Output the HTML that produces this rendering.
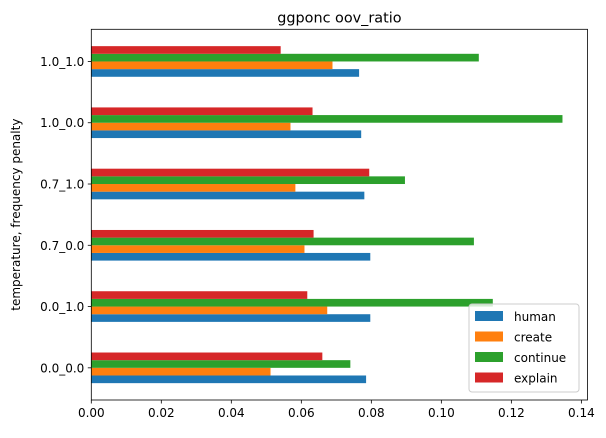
<!DOCTYPE html>
<html><head><meta charset="utf-8"><style>
body{margin:0;background:#fff;font-family:"Liberation Sans","DejaVu Sans",sans-serif}
svg text{font-family:"DejaVu Sans","Liberation Sans",sans-serif;font-size:12px;fill:#000}
</style></head><body>
<svg id="c" width="606" height="433"></svg>
<script>
const categories=["0.0_0.0","0.0_1.0","0.7_0.0","0.7_1.0","1.0_0.0","1.0_1.0"];
const seriesNames=["human","create","continue","explain"];
const human=[0.0785,0.0797,0.0797,0.078,0.0771,0.0765];
const create=[0.0512,0.0674,0.0609,0.0583,0.0569,0.0689];
const cont=[0.074,0.1147,0.1093,0.0896,0.1346,0.1107];
const explain=[0.066,0.0617,0.0635,0.0794,0.0632,0.0541];
const xTicks=[0,0.02,0.04,0.06,0.08,0.10,0.12,0.14];
const xTickLabels=["0.00","0.02","0.04","0.06","0.08","0.10","0.12","0.14"];
const colors=["#1f77b4","#ff7f0e","#2ca02c","#d62728"];
const series=[human,create,cont,explain];
const L=91.3,R=587.5,T=29.3,B=400;
const xmax=0.14175;
const X=v=>L+v/xmax*(R-L);
const ymin=-0.525,ymax=5.525;
const Y=v=>B-(v-ymin)/(ymax-ymin)*(B-T);
const svg=document.getElementById('c');const NS="http://www.w3.org/2000/svg";
function mk(t,a,txt){const e=document.createElementNS(NS,t);for(const k in a)e.setAttribute(k,a[k]);if(txt!=null)e.textContent=txt;svg.appendChild(e);return e;}
const bw=0.125;
categories.forEach((c,i)=>{
  series.forEach((s,j)=>{
    const top=i-0.25+(j+1)*bw;
    const r=mk('rect',{x:X(0),y:Y(top),width:X(s[i])-X(0),height:Y(top-bw)-Y(top),fill:colors[j]});
    
    
  });
  const tk=mk('line',{x1:L-3.5,x2:L,y1:Y(i),y2:Y(i),stroke:'#000','stroke-width':0.8});
  
  const t=mk('text',{x:L-7,y:Y(i)+4.5,'text-anchor':'end'},c);
  
});
xTicks.forEach((v,i)=>{
  const tk=mk('line',{x1:X(v),x2:X(v),y1:B,y2:B+3.5,stroke:'#000','stroke-width':0.8});
  
  const t=mk('text',{x:X(v),y:B+17,'text-anchor':'middle'},xTickLabels[i]);
  
});
const fr=mk('rect',{x:L,y:T,width:R-L,height:B-T,fill:'none',stroke:'#000','stroke-width':0.8});

const ti=mk('text',{x:(L+R)/2,y:T-7,'text-anchor':'middle','font-size':'14.4'},'ggponc oov_ratio');
ti.style.fontSize='14.4px';

const yl=mk('text',{x:0,y:0,'text-anchor':'middle',transform:`translate(20,${(T+B)/2}) rotate(-90)`},'temperature, frequency penalty');

const lg=mk('rect',{x:469,y:304,width:110,height:88,rx:3,fill:'#fff','fill-opacity':0.8,stroke:'#ccc','stroke-width':1});

seriesNames.forEach((n,j)=>{
  const y=311+j*20.5;
  const sw=mk('rect',{x:475,y:y,width:28,height:10,fill:colors[j]});
  
  const t=mk('text',{x:514,y:y+10},n);
  
});
</script>
</body></html>
